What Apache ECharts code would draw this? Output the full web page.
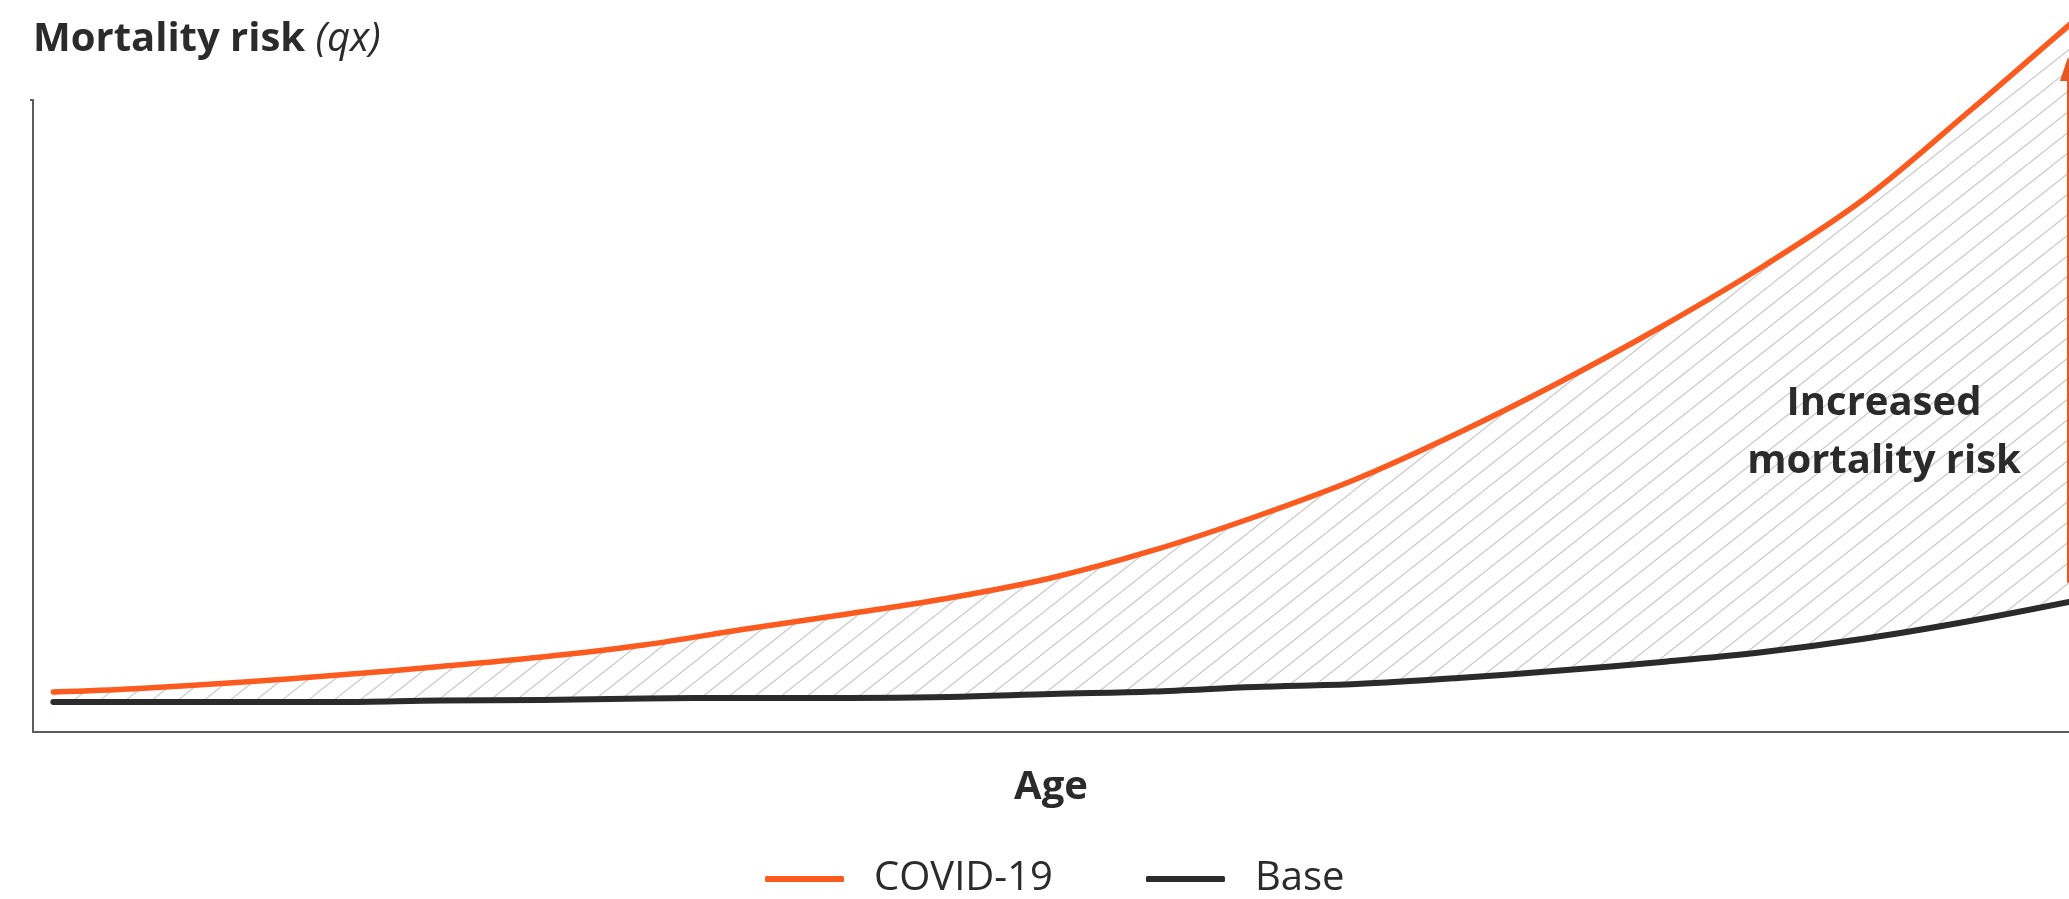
<!DOCTYPE html>
<html>
<head>
<meta charset="utf-8">
<script src="https://cdn.jsdelivr.net/npm/echarts@6/dist/echarts.min.js"></script>
<style>
html,body{margin:0;padding:0;background:#fff;}
#chart{width:2069px;height:899px;}
</style>
</head>
<body>
<div id="chart"></div>
<script>
// ---- data ----
const ages  = [1, 5, 10, 15, 20, 25, 30, 35, 40, 45, 50, 55, 60, 65, 70, 75, 80, 85, 90, 95, 100];
const covid = [6.33, 6.85, 7.82, 9.02, 10.36, 11.87, 13.77, 16.30, 18.67, 21.20, 24.37, 28.72, 34.02, 40.03, 47.31, 55.38, 64.16, 73.73, 84.49, 97.94, 111.87];
const base  = [4.75, 4.75, 4.75, 4.75, 4.98, 5.06, 5.30, 5.38, 5.38, 5.54, 6.01, 6.41, 7.12, 7.59, 8.54, 9.73, 11.08, 12.66, 14.79, 17.48, 20.57];
const seriesNames = ['COVID-19', 'Base'];
const annotationText = 'Increased\nmortality risk';
const arrowAge = 99.95;
const arrowFrom = 23.6;
const arrowTo = 104.9;

const ORANGE = '#fc5a1f';
const DARK = '#2b2b2b';
const AXIS = '#5c5c5c';
const FONT = '"Open Sans", "Noto Sans", sans-serif';

// hatch pattern (diagonal thin grey lines)
function hatch() {
  const W = 52, H = 41;
  const c = document.createElement('canvas');
  c.width = W; c.height = H;
  const g = c.getContext('2d');
  g.strokeStyle = '#c6c6c6';
  g.lineWidth = 1.1;
  for (const off of [-52, -26, 0, 26, 52]) {
    g.beginPath();
    g.moveTo(off, H);
    g.lineTo(off + W, 0);
    g.stroke();
  }
  return c;
}

const toPairs = (vals) => ages.map((a, i) => [a, vals[i]]);
const SMOOTH = 0.35;

const chart = echarts.init(document.getElementById('chart'), null, {renderer: 'canvas'});
chart.setOption({
  animation: false,
  backgroundColor: '#ffffff',
  textStyle: {fontFamily: FONT},
  title: {
    left: 33, top: 20, padding: 0,
    text: '{b|Mortality risk}{i| (qx)}',
    textStyle: {
      rich: {
        b: {fontFamily: FONT, fontSize: 40, fontWeight: 'bold', color: DARK, lineHeight: 40},
        i: {fontFamily: FONT, fontSize: 40, fontStyle: 'italic', fontWeight: 'normal', color: DARK, lineHeight: 40}
      }
    }
  },
  grid: [
    // data grid: same pixel scale as the visible axes, extended upward for the overshooting curve
    {left: 33, right: 0, top: 5.2, bottom: 167, containLabel: false},
    // visible axes frame
    {left: 33, right: 0, top: 100, bottom: 167, containLabel: false}
  ],
  xAxis: [
    {gridIndex: 0, type: 'value', min: 0, max: 100, show: false},
    {
      gridIndex: 1, type: 'value', min: 0, max: 100, z: 10,
      name: 'Age', nameLocation: 'middle', nameGap: 36,
      nameTextStyle: {fontFamily: FONT, fontSize: 40, fontWeight: 'bold', color: DARK, lineHeight: 40},
      axisLine: {show: true, lineStyle: {color: AXIS, width: 2}},
      axisTick: {show: false}, axisLabel: {show: false}, splitLine: {show: false}
    }
  ],
  yAxis: [
    {gridIndex: 0, type: 'value', min: 0, max: 115, show: false},
    {
      gridIndex: 1, type: 'value', min: 0, max: 100, interval: 100, z: 10,
      axisLine: {show: true, lineStyle: {color: AXIS, width: 2}},
      axisTick: {show: true, length: 3, customValues: [100], lineStyle: {color: AXIS, width: 2}},
      axisLabel: {show: false}, splitLine: {show: false}
    }
  ],
  legend: {
    data: seriesNames,
    top: 859, left: 765, padding: 0,
    icon: 'roundRect', itemWidth: 79, itemHeight: 6, itemGap: 93,
    textStyle: {fontFamily: FONT, fontSize: 40, color: DARK, padding: [0, 0, 0, 25]},
    selectedMode: false
  },
  series: [
    {
      // hatched region under the COVID-19 curve
      name: 'hatch', type: 'line', xAxisIndex: 0, yAxisIndex: 0, data: toPairs(covid),
      smooth: SMOOTH, symbol: 'none', z: 1, silent: true,
      lineStyle: {width: 0, opacity: 0},
      areaStyle: {color: {image: hatch(), repeat: 'repeat'}, opacity: 1}
    },
    {
      // white cover under the base curve, so hatching only lies between the two curves
      name: 'cover', type: 'line', xAxisIndex: 0, yAxisIndex: 0, data: toPairs(base),
      smooth: SMOOTH, symbol: 'none', z: 2, silent: true,
      lineStyle: {width: 0, opacity: 0},
      areaStyle: {color: '#ffffff', opacity: 1}
    },
    {
      name: 'Base', type: 'line', xAxisIndex: 0, yAxisIndex: 0, data: toPairs(base),
      smooth: SMOOTH, symbol: 'none', z: 4,
      lineStyle: {color: DARK, width: 6, cap: 'round', join: 'round'},
      itemStyle: {color: DARK}
    },
    {
      name: 'COVID-19', type: 'line', xAxisIndex: 0, yAxisIndex: 0, data: toPairs(covid),
      smooth: SMOOTH, symbol: 'none', z: 5,
      lineStyle: {color: ORANGE, width: 5.5, cap: 'round', join: 'round'},
      itemStyle: {color: ORANGE},
      markLine: {
        silent: true, symbol: ['none', 'triangle'], symbolSize: [16, 24],
        label: {show: false},
        lineStyle: {color: '#e8561f', width: 2, type: 'solid'},
        emphasis: {disabled: true},
        data: [[{coord: [arrowAge, arrowFrom]}, {coord: [arrowAge, arrowTo]}]]
      }
    }
  ],
  graphic: [{
    type: 'text', x: 1884, y: 375, z: 10,
    style: {
      text: annotationText,
      font: 'bold 40px ' + FONT,
      fill: DARK, align: 'center', verticalAlign: 'top', lineHeight: 58
    }
  }]
});
</script>
</body>
</html>
